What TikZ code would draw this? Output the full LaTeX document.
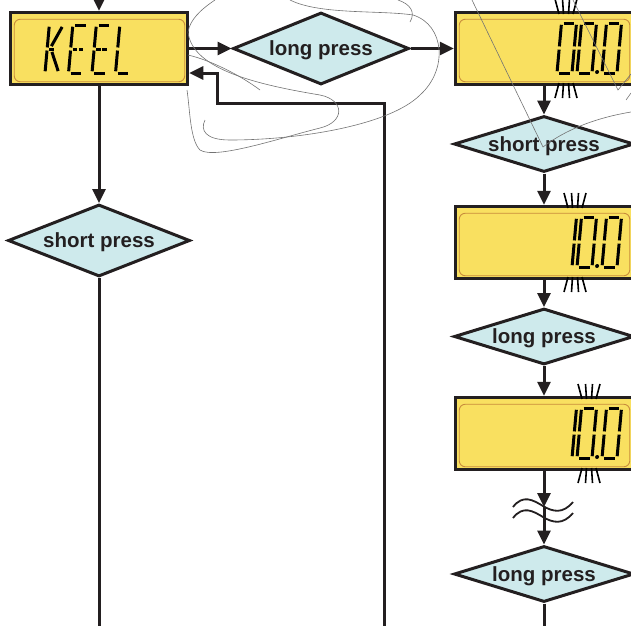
\documentclass[tikz,border=0pt]{standalone}
\usepackage{fontspec}
\setmainfont{Liberation Sans}
\usetikzlibrary{arrows.meta,shapes.geometric}
\definecolor{lcdyellow}{RGB}{249,224,96}
\definecolor{lcdrim}{RGB}{200,140,60}
\definecolor{dcyan}{RGB}{206,234,236}
\definecolor{ink}{RGB}{35,31,32}
\tikzset{
 lcdbox/.style={draw=ink, line width=3.5pt, fill=lcdyellow, minimum width=177pt, minimum height=72pt, inner sep=0pt},
 decision/.style={diamond, draw=ink, line width=3pt, fill=dcyan, aspect=3.5, inner sep=0pt, text depth=0pt, font=\bfseries\fontsize{20.5}{24}\selectfont, text=ink},
 conn/.style={draw=ink, line width=3pt},
 arr/.style={conn, -{Triangle[length=14pt,width=13pt]}},
 seg/.style={line width=3pt, draw=black},
 blinkmark/.style={line width=1.6pt, draw=black},
 rim/.style={draw=lcdrim, line width=0.9pt, rounded corners=6pt},
 scribble/.style={draw=black!55, line width=0.6pt},
 wave/.style={draw=ink, line width=1.8pt},
}
\pgfkeys{/lcd/.cd,
 a/.code={\draw[seg] (2.2,-50) -- (12.8,-50);},
 b/.code={\draw[seg] (15,-48.2) -- (15,-26.6);},
 c/.code={\draw[seg] (15,-23.4) -- (15,-1.8);},
 d/.code={\draw[seg] (2.2,0) -- (12.8,0);},
 e/.code={\draw[seg] (0,-23.4) -- (0,-1.8);},
 f/.code={\draw[seg] (0,-48.2) -- (0,-26.6);},
 g/.code={\draw[seg] (2.2,-25) -- (12.8,-25);},
 h/.code={\draw[seg] (2.2,-25) -- (6.8,-25);},
 i/.code={\draw[seg] (8.2,-25) -- (12.8,-25);},
 k/.code={\draw[seg] (4,-28) -- (13,-48);},
 l/.code={\draw[seg] (5,-22) -- (13,-2);},
 p/.code={\fill[black] (0,-1) circle (2pt);},
}
\newcommand\lcdglyph[4][1]{%
 \begin{scope}[shift={(#2,#3)}, xslant=0.09, yscale=#1]
 \foreach \s in {#4}{\edef\lcdtmp{\noexpand\pgfkeys{/lcd/\s}}\lcdtmp}
 \end{scope}}
\newcommand\lcdblink[3]{%
 \draw[blinkmark] (#1-11,#2-12) -- (#1-7,#2+3);
 \draw[blinkmark] (#1-3.5,#2-12) -- (#1-2.5,#2+3);
 \draw[blinkmark] (#1+3.5,#2-12) -- (#1+2.5,#2+3);
 \draw[blinkmark] (#1+11,#2-12) -- (#1+7,#2+3);
 \draw[blinkmark] (#1-7,#3-3) -- (#1-11,#3+12);
 \draw[blinkmark] (#1-2.5,#3-3) -- (#1-3.5,#3+12);
 \draw[blinkmark] (#1+2.5,#3-3) -- (#1+3.5,#3+12);
 \draw[blinkmark] (#1+7,#3-3) -- (#1+11,#3+12);}
\begin{document}
\begin{tikzpicture}[x=1pt,y=-1pt]
\useasboundingbox (0,0) rectangle (631,625);
% boxes
\node[lcdbox] (keel) at (99,48.5) {};
\node[lcdbox] (d1) at (544,48.5) {};
\node[lcdbox] (d2) at (544,242.5) {};
\node[lcdbox] (d3) at (544,433.5) {};
\foreach \b in {keel,d1,d2,d3}
 \draw[rim] ([shift={(5.5,8.5)}]\b.north west) rectangle ([shift={(-4.5,-4.5)}]\b.south east);
% decisions
\node[decision, minimum width=176pt, minimum height=72pt] (lp1) at (321,48.5) {long press};
\node[decision, minimum width=182pt, minimum height=72pt] (sp1) at (99,240.5) {short press};
\node[decision, minimum width=180pt, minimum height=56pt] (sp2) at (544,144) {short press};
\node[decision, minimum width=180pt, minimum height=56pt] (lp2) at (544,336.5) {long press};
\node[decision, minimum width=180pt, minimum height=56pt] (lp3) at (544,574) {long press};
% LCD text
\lcdglyph[0.96]{45}{73}{f,e,h,k,l}
\lcdglyph[0.96]{68.5}{73}{a,f,e,d,h,i}
\lcdglyph[0.96]{92}{73}{a,f,e,d,h,i}
\lcdglyph[0.96]{115.5}{73}{f,e,d}
\lcdglyph{557}{73}{a,b,c,d,e,f}
\lcdglyph{577}{73}{a,b,c,d,e,f}
\lcdglyph{597}{73}{p}
\lcdglyph{602}{73}{a,b,c,d,e,f}
\lcdglyph{557}{267}{b,c}
\lcdglyph{577}{267}{a,b,c,d,e,f}
\lcdglyph{597}{267}{p}
\lcdglyph{602}{267}{a,b,c,d,e,f}
\lcdglyph{557}{458}{b,c}
\lcdglyph{577}{458}{a,b,c,d,e,f}
\lcdglyph{597}{458}{p}
\lcdglyph{602}{458}{a,b,c,d,e,f}
\lcdblink{566}{11}{86}
\lcdblink{575}{205}{280}
\lcdblink{589}{396}{471}
% connectors
\coordinate (topin) at (99,-5);
\coordinate (leftend) at (99,632);
\coordinate (rightend) at (544,632);
\coordinate (retstart) at (384,632);
\coordinate (retcorner) at (217,103);
\coordinate (retlevel) at (217,73);
\coordinate (brk) at (544,507);
\draw[arr] (topin) -- (keel.north);
\draw[arr] (keel.east) -- (lp1.west);
\draw[arr] (lp1.east) -- (d1.west);
\draw[arr] (keel.south) -- (sp1.north);
\draw[conn] (sp1.south) -- (leftend);
\draw[arr] (d1.south) -- (sp2.north);
\draw[arr] (sp2.south) -- (d2.north);
\draw[arr] (d2.south) -- (lp2.north);
\draw[arr] (lp2.south) -- (d3.north);
\draw[arr] (d3.south) -- (brk);
\draw[arr] (brk) -- (lp3.north);
\draw[conn] (lp3.south) -- (rightend);
\draw[arr] (retstart) |- (retcorner) |- (keel.east |- retlevel);
% break symbol
\draw[wave] (513,507) .. controls (523,494) and (533,500) .. (543,506) .. controls (553,512) and (563,514) .. (573,502);
\draw[wave] (513,518) .. controls (523,505) and (533,511) .. (543,517) .. controls (553,523) and (563,525) .. (573,513);
% stray thin lines
\draw[scribble] (215,0) .. controls (200,10) and (190,20) .. (188,32) .. controls (192,70) and (260,85) .. (320,95) .. controls (345,100) and (345,122) .. (320,128) .. controls (280,138) and (215,160) .. (200,150) .. controls (190,140) and (190,110) .. (187,90);
\draw[scribble] (188,55) .. controls (210,60) and (240,75) .. (260,90);
\draw[scribble] (290,0) .. controls (320,15) and (380,10) .. (413,15) .. controls (445,25) and (448,70) .. (420,95) .. controls (390,125) and (300,140) .. (230,140) .. controls (205,140) and (200,130) .. (205,120);
\draw[scribble] (398,0) .. controls (410,4) and (416,12) .. (410,22);
\draw[scribble] (472,0) -- (543,147) .. controls (565,130) and (595,118) .. (631,112);
\draw[scribble] (573,0) -- (618,90) -- (631,74);
\draw[scribble] (631,93) -- (626,100);
\end{tikzpicture}
\end{document}
